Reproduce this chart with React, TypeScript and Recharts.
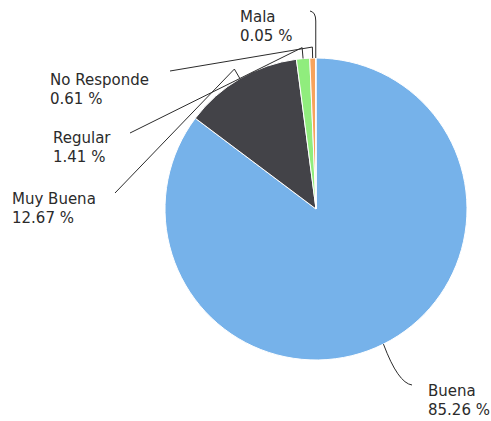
import React from 'react';
import { PieChart, Pie, Cell } from 'recharts';

const categories = ['Buena', 'Muy Buena', 'Regular', 'No Responde', 'Mala'];
const shares = [85.26, 12.67, 1.41, 0.61, 0.05];
const sliceColors = ['#76b2ea', '#434348', '#90ed7d', '#f7a35c', '#8085e9'];

const data = categories.map((name, i) => ({ name, value: shares[i] }));

// label placement, relative to the pie centre (text start / first baseline, connector end)
const labelSpots = [
  { tx: 112, ty: 187, ex: 96, ey: 176, bend: 'curve' },
  { tx: -304, ty: -5, ex: -201, ey: -16, bend: 'kink' },
  { tx: -263, ty: -66, ex: -186, ey: -76, bend: 'kink' },
  { tx: -266, ty: -124, ex: -146, ey: -138, bend: 'kink' },
  { tx: -76, ty: -187, ex: -6, ey: -197, bend: 'hook' },
];

const RAD = Math.PI / 180;
const ink = '#2b2b2b';

function renderLabel(props: any) {
  const { cx, cy, midAngle, outerRadius, index, name, value } = props;
  const spot = labelSpots[index];
  const polar = (r: number) => ({
    x: cx + r * Math.cos(midAngle * RAD),
    y: cy - r * Math.sin(midAngle * RAD),
  });
  const p0 = polar(outerRadius);
  const p1 = polar(outerRadius + 11);
  const ex = cx + spot.ex;
  const ey = cy + spot.ey;
  let d = '';
  if (spot.bend === 'curve') {
    d = `M${p0.x},${p0.y} Q${ex - 14},${ey - 2} ${ex},${ey}`;
  } else if (spot.bend === 'hook') {
    d = `M${p0.x},${p0.y} L${p0.x},${ey + 9} Q${p0.x},${ey} ${ex},${ey - 1}`;
  } else {
    d = `M${p0.x},${p0.y} L${p1.x},${p1.y} L${ex},${ey}`;
  }
  return (
    <g key={`lbl-${index}`}>
      <path d={d} fill="none" stroke={ink} strokeWidth={1} />
      <text
        x={cx + spot.tx}
        y={cy + spot.ty}
        fill={ink}
        fontSize={15}
        fontFamily="DejaVu Sans, sans-serif"
      >
        <tspan x={cx + spot.tx}>{name}</tspan>
        <tspan x={cx + spot.tx} dy={19}>{`${Number(value).toFixed(2)} %`}</tspan>
      </text>
    </g>
  );
}

export default function App() {
  return (
    <div style={{ position: 'fixed', left: 0, top: 0, width: 491, height: 421, background: '#fff' }}>
      <PieChart width={491} height={421} margin={{ top: 0, right: 0, bottom: 0, left: 0 }}>
        <Pie
          data={data}
          dataKey="value"
          nameKey="name"
          cx={316}
          cy={209}
          outerRadius={151}
          startAngle={90}
          endAngle={-270}
          stroke="#ffffff"
          strokeWidth={1}
          label={renderLabel}
          labelLine={false}
          isAnimationActive={false}
        >
          {data.map((d, i) => (
            <Cell key={d.name} fill={sliceColors[i]} />
          ))}
        </Pie>
      </PieChart>
    </div>
  );
}
